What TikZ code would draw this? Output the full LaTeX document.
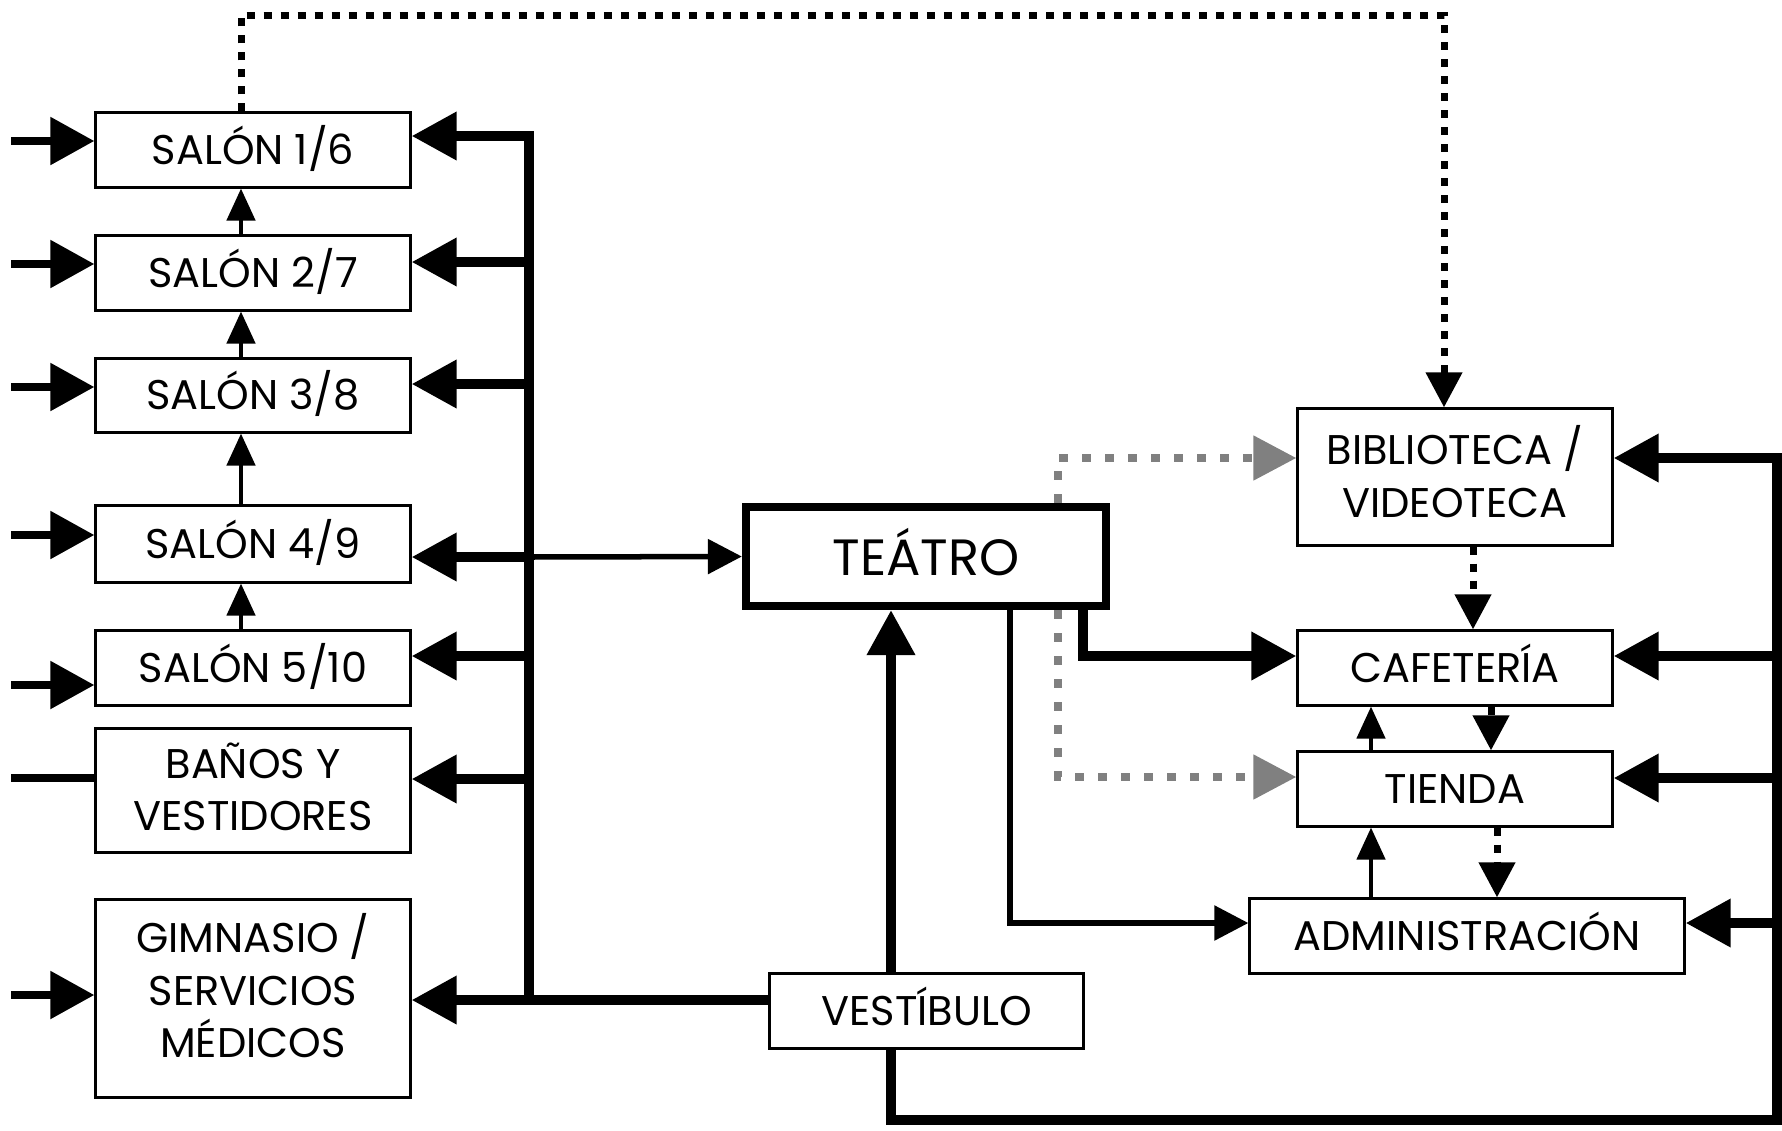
\documentclass[tikz,border=0pt]{standalone}
\usepackage{fontspec}
\setmainfont{Poppins}
\usepackage{tikz}
\usetikzlibrary{arrows.meta}

\tikzset{
  room/.style={draw, line width=0.3mm, minimum width=3.14cm, minimum height=0.74cm,
    inner sep=0pt, align=center, text height=0.28cm, text depth=0pt,
    font=\fontsize{11.8}{14.8}\selectfont},
  feed/.style={line width=0.85mm, -{Triangle[length=4.4mm,width=4.6mm]}},
  main/.style={line width=1mm, -{Triangle[length=4.5mm,width=4.6mm]}},
  link/.style={line width=0.55mm, -{Triangle[length=3.4mm,width=3.4mm]}},
  stair/.style={line width=0.45mm, -{Triangle[length=3.2mm,width=2.8mm]}},
  dotlink/.style={line width=0.7mm, dash pattern=on 0.8mm off 0.9mm, -{Triangle[length=3.5mm,width=3.5mm]}},
  graylink/.style={black!50, line width=0.8mm, dash pattern=on 0.9mm off 1.4mm, -{Triangle[length=4.3mm,width=4.3mm]}},
}

\begin{document}
\begin{tikzpicture}[x=0.01cm, y=-0.01cm]
        \useasboundingbox (0,0) rectangle (1782,1130);

        % salones y servicios
        \node[room] (s16) at (253,150) {SALÓN 1/6};
        \node[room] (s27) at (253,273) {SALÓN 2/7};
        \node[room, minimum height=0.73cm] (s38) at (253,395.5) {SALÓN 3/8};
        \node[room, minimum height=0.76cm] (s49) at (253,544) {SALÓN 4/9};
        \node[room] (s510) at (253,668) {SALÓN 5/10};
        \node[room, minimum height=1.23cm, text height=0.8cm] (banos) at (253,790.5) {BAÑOS Y\\VESTIDORES};
        \node[room, minimum height=1.97cm, text height=1.32cm, text depth=0.15cm] (gim) at (253,998.5) {GIMNASIO /\\SERVICIOS\\MÉDICOS};

        \node[room, line width=0.8mm, minimum width=3.6cm, minimum height=0.99cm, text height=0.37cm,
              font=\fontsize{14.5}{17}\selectfont] (teatro) at (926,556.5) {TEÁTRO};
        \node[room, minimum width=3.13cm] (vest) at (926.5,1011) {VESTÍBULO};

        \node[room, minimum height=1.36cm, text height=0.8cm] (biblio) at (1455,477) {BIBLIOTECA /\\VIDEOTECA};
        \node[room] (cafe) at (1455,668) {CAFETERÍA};
        \node[room] (tienda) at (1455,789) {TIENDA};
        \node[room, minimum width=4.34cm] (admin) at (1467,936) {ADMINISTRACIÓN};

        % accesos desde fuera
        \coordinate (i16) at (11,141);
        \coordinate (i27) at (11,264);
        \coordinate (i38) at (11,387);
        \coordinate (i49) at (11,535);
        \coordinate (i510) at (11,685);
        \coordinate (iban) at (11,778);
        \coordinate (igim) at (11,995);
        \draw[feed] (i16) -- (i16 -| s16.west);
        \draw[feed] (i27) -- (i27 -| s27.west);
        \draw[feed] (i38) -- (i38 -| s38.west);
        \draw[feed] (i49) -- (i49 -| s49.west);
        \draw[feed] (i510) -- (i510 -| s510.west);
        \draw[line width=0.85mm] (iban) -- (iban -| banos.west);
        \draw[feed] (igim) -- (igim -| gim.west);

        % circulacion izquierda
        \coordinate (b16) at (529,136);
        \coordinate (b27) at (529,262);
        \coordinate (b38) at (529,384);
        \coordinate (b49) at (529,557);
        \coordinate (b510) at (529,656);
        \coordinate (bban) at (529,779);
        \coordinate (bgim) at (529,1000);
        \draw[main] (bgim) -- (b16) -- (b16 -| s16.east);
        \draw[main] (b27) -- (b27 -| s27.east);
        \draw[main] (b38) -- (b38 -| s38.east);
        \draw[main] (b49) -- (b49 -| s49.east);
        \draw[main] (b510) -- (b510 -| s510.east);
        \draw[main] (bban) -- (bban -| banos.east);
        \draw[main] (bgim -| vest.west) -- (bgim -| gim.east);
        \draw[link] (b49) -- (teatro.west);

        % entre salones
        \coordinate (dl) at (241,15);
        \draw[stair] (s27.north -| dl) -- (s16.south -| dl);
        \draw[stair] (s38.north -| dl) -- (s27.south -| dl);
        \draw[stair] (s49.north -| dl) -- (s38.south -| dl);
        \draw[stair] (s510.north -| dl) -- (s49.south -| dl);

        % vestibulo
        \coordinate (vx) at (891,1120);
        \coordinate (rb) at (1777,1120);
        \coordinate (rt) at (1777,458);
        \draw[main] (vest.north -| vx) -- (teatro.south -| vx);
        \draw[main] (vest.south -| vx) -- (vx) -- (rb) -- (rt) -- (rt -| biblio.east);

        % circulacion derecha
        \coordinate (rc) at (1777,656);
        \coordinate (rti) at (1777,778);
        \coordinate (rad) at (1777,923);
        \draw[main] (rc) -- (rc -| cafe.east);
        \draw[main] (rti) -- (rti -| tienda.east);
        \draw[main] (rad) -- (rad -| admin.east);

        % salidas del teatro
        \coordinate (tc) at (1083,656);
        \coordinate (ta) at (1010,923);
        \coordinate (g1) at (1058,458);
        \coordinate (g2) at (1058,777);
        \draw[main] (teatro.south -| tc) -- (tc) -- (tc -| cafe.west);
        \draw[link] (teatro.south -| ta) -- (ta) -- (ta -| admin.west);
        \draw[graylink] (teatro.north -| g1) -- (g1) -- (g1 -| biblio.west);
        \draw[graylink] (teatro.south -| g2) -- (g2) -- (g2 -| tienda.west);

        % bloque derecho
        \coordinate (ux) at (1371,0);
        \coordinate (d1) at (1473,0);
        \coordinate (d2) at (1491,0);
        \coordinate (d3) at (1497,0);
        \draw[stair] (tienda.north -| ux) -- (cafe.south -| ux);
        \draw[stair] (admin.north -| ux) -- (tienda.south -| ux);
        \draw[dotlink] (biblio.south -| d1) -- (cafe.north -| d1);
        \draw[dotlink] (cafe.south -| d2) -- (tienda.north -| d2);
        \draw[dotlink] (tienda.south -| d3) -- (admin.north -| d3);

        % salon 1/6 a biblioteca
        \coordinate (dr) at (1444,15);
        \draw[dotlink] (s16.north -| dl) -- (dl) -- (dr) -- (biblio.north -| dr);
    \end{tikzpicture}
\end{document}
